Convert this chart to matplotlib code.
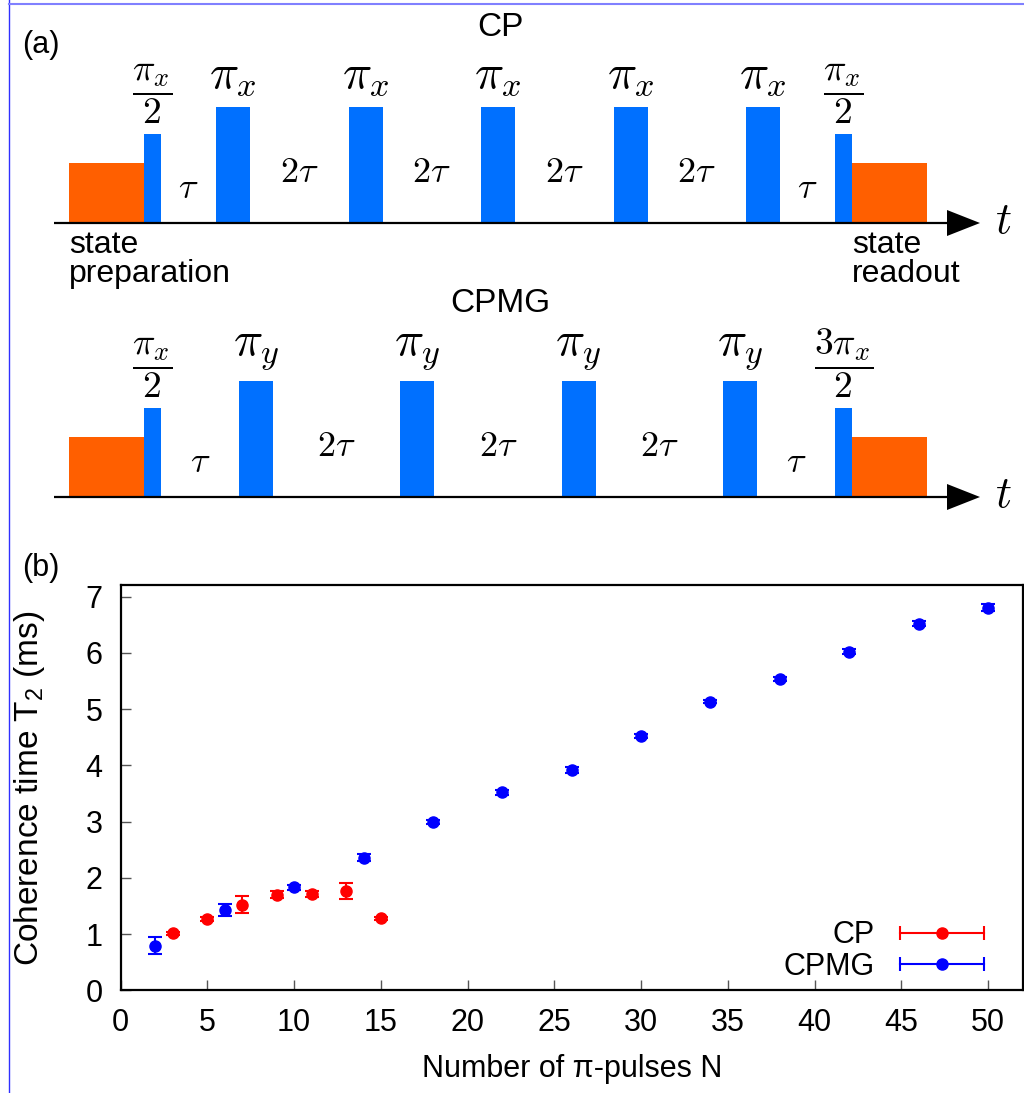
"""
plot.py - CP / CPMG pulse sequences and coherence time vs number of pi pulses
"""
import matplotlib
matplotlib.use("Agg")
import matplotlib.pyplot as plt
from matplotlib.lines import Line2D
from matplotlib.legend_handler import HandlerLine2D, HandlerTuple

plt.rcParams["font.family"] = ["Liberation Sans", "DejaVu Sans"]
plt.rcParams["mathtext.fontset"] = "custom"
plt.rcParams["mathtext.rm"] = "Liberation Sans"
plt.rcParams["mathtext.it"] = "Liberation Sans:italic"

# ---- data: panel (b) ----
cp_n = [3, 5, 7, 9, 11, 13, 15]
cp_t2 = [1.01, 1.27, 1.52, 1.70, 1.71, 1.76, 1.28]
cp_err = [0.03, 0.03, 0.15, 0.06, 0.05, 0.145, 0.03]

cpmg_n = [2, 6, 10, 14, 18, 22, 26, 30, 34, 38, 42, 46, 50]
cpmg_t2 = [0.79, 1.43, 1.83, 2.36, 2.99, 3.52, 3.92, 4.52, 5.13, 5.53, 6.02, 6.52, 6.80]
cpmg_err = [0.15, 0.11, 0.05, 0.06, 0.03, 0.04, 0.05, 0.03, 0.03, 0.04, 0.05, 0.05, 0.06]

x_ticks = [0, 5, 10, 15, 20, 25, 30, 35, 40, 45, 50]
y_ticks = [0, 1, 2, 3, 4, 5, 6, 7]

# ---- data: panel (a) pulse sequences ----
cp_labels = [r"$\dfrac{\pi_x}{2}$"] + [r"$\pi_x$"] * 5 + [r"$\dfrac{\pi_x}{2}$"]
cp_gaps = [r"$\tau$"] + [r"$2\tau$"] * 4 + [r"$\tau$"]
cpmg_labels = [r"$\dfrac{\pi_x}{2}$"] + [r"$\pi_y$"] * 4 + [r"$\dfrac{3\pi_x}{2}$"]
cpmg_gaps = [r"$\tau$"] + [r"$2\tau$"] * 3 + [r"$\tau$"]

ORANGE = "#ff5f00"
PBLUE = "#0070ff"

fig = plt.figure(figsize=(10.24, 10.93), dpi=100)

# panel (a) drawn in pixel-like coordinates
ax_a = fig.add_axes([0, 1 - 560 / 1093, 1, 560 / 1093])
ax_a.set_xlim(0, 1024)
ax_a.set_ylim(560, 0)
ax_a.axis("off")


def draw_sequence(ax, base, labels, gaps, first_c, last_c, title, title_y):
    h_pi, h_half, h_prep = 116, 89, 60
    w_pi, w_half = 34, 17
    # state preparation / readout blocks
    ax.add_patch(plt.Rectangle((69, base - h_prep), 75, h_prep, color=ORANGE, lw=0))
    ax.add_patch(plt.Rectangle((852, base - h_prep), 75, h_prep, color=ORANGE, lw=0))
    # pulse centres
    n_pi = len(labels) - 2
    step = (last_c - first_c) / (n_pi - 1)
    centres = [152.5] + [first_c + i * step for i in range(n_pi)] + [843.5]
    widths = [w_half] + [w_pi] * n_pi + [w_half]
    heights = [h_half] + [h_pi] * n_pi + [h_half]
    for c, w, h, lab in zip(centres, widths, heights, labels):
        ax.add_patch(plt.Rectangle((c - w / 2, base - h), w, h, color=PBLUE, lw=0))
        if w == w_half:
            ax.text(c, base - h - 8, lab, ha="center", va="bottom", fontsize=27,
                    math_fontfamily="cm")
        else:
            ax.text(c, base - h - 9, lab, ha="center", va="bottom", fontsize=35,
                    math_fontfamily="cm")
    for i, g in enumerate(gaps):
        mid = (centres[i] + widths[i] / 2 + centres[i + 1] - widths[i + 1] / 2) / 2
        y = base - 35 if g == r"$\tau$" else base - 50
        ax.text(mid, y, g, ha="center", va="center", fontsize=26, math_fontfamily="cm")
    # time axis
    ax.plot([54, 950], [base, base], color="black", lw=1.6, solid_capstyle="butt")
    ax.fill([947, 980, 947], [base - 13, base, base + 13], color="black", lw=0)
    ax.text(1003, base - 2, r"$t$", ha="center", va="center", fontsize=32,
            math_fontfamily="cm")
    ax.text(500, title_y, title, ha="center", va="center", fontsize=24)


draw_sequence(ax_a, 223, cp_labels, cp_gaps, 233, 763, "CP", 28)
draw_sequence(ax_a, 497, cpmg_labels, cpmg_gaps, 256, 740, "CPMG", 303)
ax_a.text(69, 230, "state\npreparation", ha="left", va="top", fontsize=23, linespacing=0.95)
ax_a.text(852, 230, "state\nreadout", ha="left", va="top", fontsize=23, linespacing=0.95)
ax_a.text(22, 45, "(a)", ha="left", va="center", fontsize=22)

# panel (b)
ax = fig.add_axes([120.7 / 1024, 1 - 990.3 / 1093, 902 / 1024, 405 / 1093])
ax.errorbar(cp_n, cp_t2, yerr=cp_err, fmt="o", color="#ff0000", ms=8,
            capsize=5, elinewidth=1.5, capthick=1.5)
ax.errorbar(cpmg_n, cpmg_t2, yerr=cpmg_err, fmt="o", color="#0000ff", ms=8,
            capsize=5, elinewidth=1.5, capthick=1.5)
ax.set_xlim(0, 52)
ax.set_ylim(0, 7.2)
ax.set_xticks(x_ticks)
ax.set_yticks(y_ticks)
ax.tick_params(direction="in", length=7, width=1, color="#555555", labelsize=22,
               pad=13, top=False, right=False)
for sp in ax.spines.values():
    sp.set_linewidth(1.6)
ax.set_xlabel("Number of π-pulses N", fontsize=22, labelpad=11)
ax.set_ylabel(r"Coherence time T$_2$ (ms)", fontsize=24)
ax.yaxis.set_label_coords(-0.082, 0.5)
fig.text(22 / 1024, 1 - 568 / 1093, "(b)", ha="left", va="center", fontsize=22)

# legend with horizontal error bars
handles = []
hmap = {}
for col, lab in [("#ff0000", "CP"), ("#0000ff", "CPMG")]:
    bar = Line2D([], [], color=col, lw=1.5, marker="|", ms=10, mew=1.5)
    dot = Line2D([], [], color=col, lw=0, marker="o", ms=8)
    hmap[bar] = HandlerLine2D(numpoints=2)
    hmap[dot] = HandlerLine2D(numpoints=1)
    handles.append((bar, dot))
hmap[tuple] = HandlerTuple(ndivide=1, pad=0)
ax.legend(handles, ["CP", "CPMG"], handler_map=hmap, loc="lower right",
          bbox_to_anchor=(0.998, -0.047), frameon=False, markerfirst=False,
          fontsize=22, handlelength=3.35, handletextpad=0.55, labelspacing=0.05)

# thin blue frame at left and top edge
fig.add_artist(Line2D([8.5 / 1024, 8.5 / 1024], [0, 1], color="#3030ff", lw=1))
fig.add_artist(Line2D([8.5 / 1024, 1], [1 - 3.5 / 1093, 1 - 3.5 / 1093], color="#8080ff", lw=1.5))

fig.savefig("out.png", dpi=100)
